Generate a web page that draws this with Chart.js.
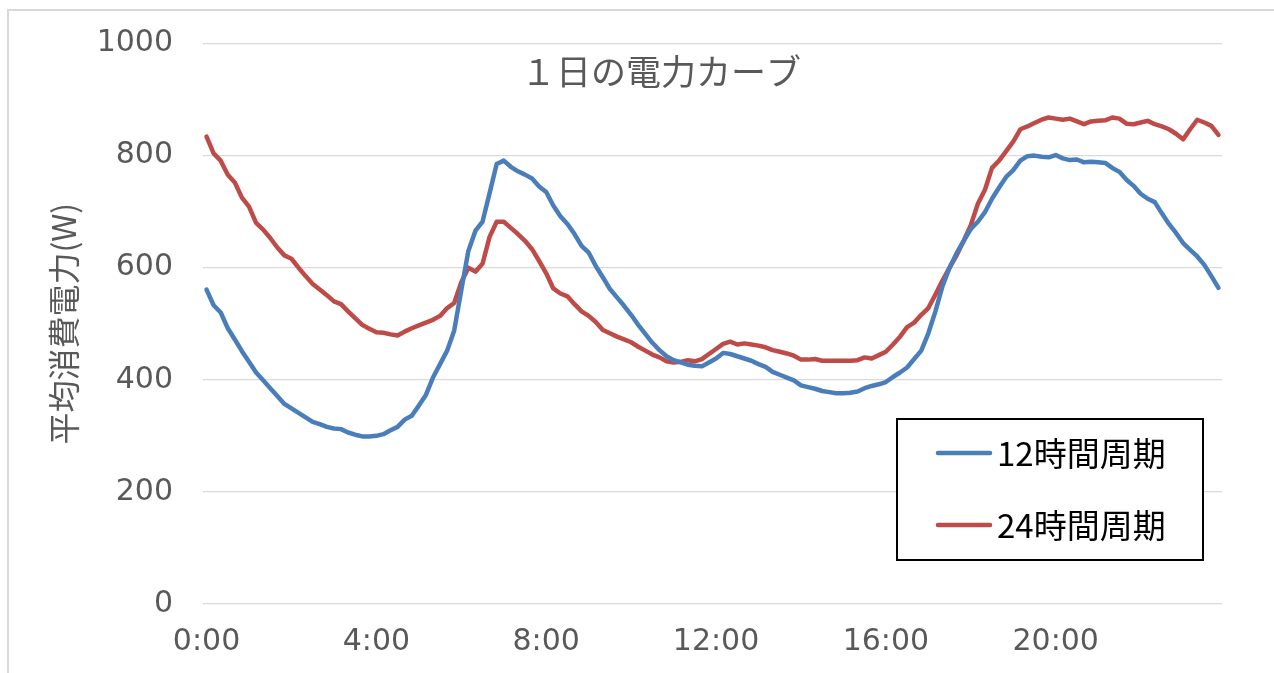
<!DOCTYPE html>
<html lang="ja">
<head>
<meta charset="utf-8">
<title>1日の電力カーブ</title>
<script src="https://cdn.jsdelivr.net/npm/chart.js@4/dist/chart.umd.min.js"></script>
<style>
  html, body { margin: 0; padding: 0; background: #ffffff; }
  canvas { display: block; }
</style>
</head>
<body>
<canvas id="chart" width="1274" height="673"></canvas>
<script>
// 10-minute slots over one day, 0:00 .. 23:50
const timeSlots = [];
for (let m = 0; m < 24 * 60; m += 10) {
  timeSlots.push(Math.floor(m / 60) + ':' + String(m % 60).padStart(2, '0'));
}

// Labels shown under the horizontal axis
const tickLabels = ['0:00', '4:00', '8:00', '12:00', '16:00', '20:00'];

// Average power consumption (W), 12-hour cycle household
const cycle12h = [
  561, 533, 520, 492, 472, 451, 432, 413, 399, 385,
  371, 357, 349, 341, 333, 325, 321, 316, 313, 312,
  306, 302, 299, 299, 300, 303, 310, 316, 329, 336,
  354, 373, 404, 428, 452, 488, 560, 630, 666, 682,
  733, 785, 791, 780, 772, 766, 759, 745, 735, 711,
  692, 678, 660, 639, 627, 603, 583, 562, 547, 532,
  516, 498, 482, 466, 453, 442, 435, 431, 427, 425,
  424, 431, 438, 448, 446, 442, 438, 434, 428, 423,
  414, 409, 404, 399, 390, 387, 384, 380, 378, 376,
  376, 377, 379, 385, 389, 392, 396, 405, 413, 422,
  437, 452, 483, 522, 567, 600, 626, 648, 669, 682,
  699, 723, 743, 762, 774, 791, 799, 800, 798, 797,
  801, 795, 792, 793, 788, 789, 788, 787, 778, 771,
  757, 746, 732, 723, 717, 697, 678, 662, 644, 632,
  620, 605, 585, 564
];

// Average power consumption (W), 24-hour cycle household
const cycle24h = [
  834, 804, 791, 766, 752, 725, 709, 680, 668, 653,
  636, 622, 616, 600, 585, 571, 561, 551, 540, 535,
  522, 510, 498, 491, 485, 484, 481, 479, 486, 492,
  497, 502, 507, 514, 528, 537, 574, 600, 593, 607,
  655, 682, 682, 671, 660, 648, 633, 612, 590, 563,
  554, 549, 535, 522, 514, 503, 489, 483, 477, 472,
  467, 459, 452, 445, 440, 433, 431, 432, 435, 433,
  437, 446, 455, 464, 468, 463, 465, 463, 461, 458,
  453, 450, 447, 443, 436, 436, 437, 434, 434, 434,
  434, 434, 435, 440, 438, 444, 450, 463, 477, 494,
  502, 516, 528, 552, 577, 600, 622, 648, 676, 714,
  739, 778, 791, 808, 825, 847, 852, 858, 864, 868,
  866, 864, 866, 861, 856, 861, 862, 863, 868, 866,
  857, 856, 859, 862, 856, 852, 847, 839, 829, 847,
  864, 859, 853, 837
];

const chartTitle = '１日の電力カーブ';
const yAxisTitle = '平均消費電力(W)';

const GRAY_TEXT = '#595959';
const LATIN_FONT = '"DejaVu Sans", Verdana, sans-serif';
const CJK_FONT = '"Noto Sans CJK JP", "Noto Sans", sans-serif';

// Light frame around the whole chart
const framePlugin = {
  id: 'frame',
  beforeDraw(chart) {
    const ctx = chart.ctx;
    ctx.save();
    ctx.fillStyle = '#ffffff';
    ctx.fillRect(0, 0, chart.width, chart.height);
    ctx.strokeStyle = '#d9d9d9';
    ctx.lineWidth = 2;
    ctx.strokeRect(8, 10, chart.width + 20, chart.height + 20);
    ctx.restore();
  }
};

// Title floating inside the plot area
const floatingTitle = {
  id: 'floatingTitle',
  afterDatasetsDraw(chart, args, opts) {
    const ctx = chart.ctx;
    ctx.save();
    ctx.font = opts.font;
    ctx.fillStyle = opts.color;
    ctx.textAlign = 'center';
    ctx.textBaseline = 'middle';
    ctx.fillText(opts.text, opts.x, opts.y);
    ctx.restore();
  }
};

// Boxed legend placed inside the plot area, built from the datasets
const boxedLegend = {
  id: 'boxedLegend',
  afterDatasetsDraw(chart, args, opts) {
    const ctx = chart.ctx;
    const { left, top, width, height, rowGap, firstRow, sampleX, sampleLen, textX } = opts;
    ctx.save();
    ctx.fillStyle = '#ffffff';
    ctx.fillRect(left, top, width, height);
    ctx.strokeStyle = '#000000';
    ctx.lineWidth = 2;
    ctx.strokeRect(left, top, width, height);
    chart.data.datasets.forEach((ds, i) => {
      const y = top + firstRow + i * rowGap;
      ctx.strokeStyle = ds.borderColor;
      ctx.lineWidth = ds.borderWidth;
      ctx.lineCap = 'round';
      ctx.beginPath();
      ctx.moveTo(left + sampleX, y);
      ctx.lineTo(left + sampleX + sampleLen, y);
      ctx.stroke();
      ctx.fillStyle = '#000000';
      ctx.font = opts.font;
      ctx.textAlign = 'left';
      ctx.textBaseline = 'middle';
      ctx.fillText(ds.label, left + textX, y);
    });
    ctx.restore();
  }
};

new Chart(document.getElementById('chart'), {
  type: 'line',
  data: {
    labels: timeSlots,
    datasets: [
      {
        label: '12時間周期',
        data: cycle12h,
        borderColor: '#4a7ebb',
        borderWidth: 4.5,
        pointRadius: 0,
        tension: 0,
        borderJoinStyle: 'round',
        borderCapStyle: 'round'
      },
      {
        label: '24時間周期',
        data: cycle24h,
        borderColor: '#be4b48',
        borderWidth: 4.5,
        pointRadius: 0,
        tension: 0,
        borderJoinStyle: 'round',
        borderCapStyle: 'round'
      }
    ]
  },
  options: {
    responsive: false,
    animation: false,
    events: [],
    layout: { padding: { left: 30, right: 52, top: 43.5, bottom: 13 } },
    scales: {
      x: {
        type: 'category',
        offset: true,
        afterFit(scale) { scale.height = 56; },
        grid: { display: false, drawTicks: false },
        border: { display: false },
        ticks: {
          autoSkip: false,
          maxRotation: 0,
          minRotation: 0,
          padding: 20,
          color: GRAY_TEXT,
          font: { family: LATIN_FONT, size: 30 },
          callback(value) {
            const label = this.getLabelForValue(value);
            return tickLabels.includes(label) ? label : null;
          }
        }
      },
      y: {
        min: 0,
        max: 1000,
        afterFit(scale) {
          scale.width = 173;
          scale.paddingTop = 0;
          scale.paddingBottom = 0;
        },
        grid: { color: '#d9d9d9', lineWidth: 1.2, drawTicks: false },
        border: { display: false },
        ticks: {
          stepSize: 200,
          padding: 30,
          color: GRAY_TEXT,
          font: { family: LATIN_FONT, size: 30 },
          callback(value) { return String(value); }
        },
        title: {
          display: true,
          text: yAxisTitle,
          color: GRAY_TEXT,
          font: { family: CJK_FONT, size: 32 },
          padding: { top: 15, bottom: 0 }
        }
      }
    },
    plugins: {
      legend: { display: false },
      tooltip: { enabled: false },
      floatingTitle: {
        text: chartTitle,
        x: 661,
        y: 72,
        color: GRAY_TEXT,
        font: '35px ' + CJK_FONT
      },
      boxedLegend: {
        left: 897, top: 419, width: 306, height: 141,
        firstRow: 34, rowGap: 72,
        sampleX: 41, sampleLen: 52, textX: 100,
        font: '33px ' + CJK_FONT
      }
    }
  },
  plugins: [framePlugin, floatingTitle, boxedLegend]
});
</script>
</body>
</html>
